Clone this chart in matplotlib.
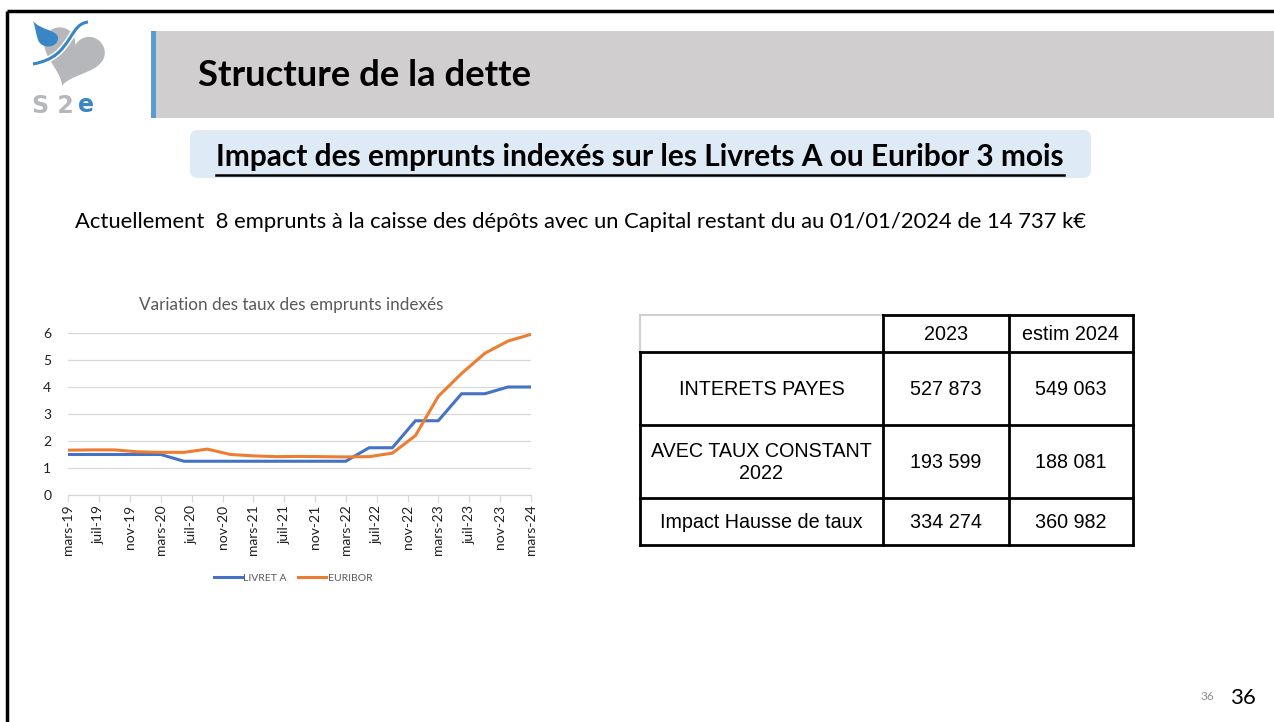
import numpy as np
import pandas as pd
import matplotlib
matplotlib.use("Agg")
import matplotlib.pyplot as plt
from matplotlib.patches import Rectangle, FancyBboxPatch, Polygon, PathPatch
from matplotlib.path import Path

# ---------------------------------------------
# Data

quarter_dates = pd.date_range("2019-03-01", "2024-03-01", freq="3MS")
livret_a = [1.5, 1.5, 1.5, 1.5, 1.5, 1.25, 1.25, 1.25, 1.25, 1.25, 1.25,
            1.25, 1.25, 1.75, 1.75, 2.75, 2.75, 3.75, 3.75, 4.0, 4.0]
euribor = [1.66, 1.67, 1.67, 1.6, 1.58, 1.58, 1.7, 1.5, 1.45, 1.42, 1.43,
           1.42, 1.41, 1.42, 1.55, 2.2, 3.65, 4.5, 5.25, 5.7, 5.95]
series_names = ["LIVRET A", "EURIBOR"]
tick_dates = pd.date_range("2019-03-01", "2024-03-01", freq="4MS")
fr_months = {1: "janv", 2: "févr", 3: "mars", 4: "avr", 5: "mai", 6: "juin",
             7: "juil", 8: "août", 9: "sept", 10: "oct", 11: "nov", 12: "déc"}

table_cols = ["", "2023", "estim 2024"]
table_rows = ["INTERETS PAYES", "AVEC TAUX CONSTANT\n2022", "Impact Hausse de taux"]
table_2023 = ["527 873", "193 599", "334 274"]
table_2024 = ["549 063", "188 081", "360 982"]

title = "Structure de la dette"
subtitle = "Impact des emprunts indexés sur les Livrets A ou Euribor 3 mois"
body = ("Actuellement  8 emprunts à la caisse des dépôts avec un Capital "
        "restant du au 01/01/2024 de 14 737 k€")
chart_title = "Variation des taux des emprunts indexés"

BLUE = "#4472C4"
ORANGE = "#ED7D31"
SLIDE_FONT = ["Lato", "DejaVu Sans"]
TABLE_FONT = ["Liberation Sans", "DejaVu Sans"]
TABLE_SIZE = 14.2

W, H = 1274, 722
fig = plt.figure(figsize=(W / 100, H / 100), dpi=100)
fig.patch.set_facecolor("white")

# overlay in pixel coordinates for the slide decoration and the table
ov = fig.add_axes([0, 0, 1, 1])
ov.set_xlim(0, W)
ov.set_ylim(H, 0)
ov.axis("off")

# slide frame
ov.plot([7, 7], [11, H], color="black", lw=2.5, solid_capstyle="butt")
ov.plot([7, W], [11, 11], color="black", lw=2.5, solid_capstyle="butt")

# title bar
ov.add_patch(Rectangle((152, 31), W - 152, 87, facecolor="#D0CECE", edgecolor="none"))
ov.add_patch(Rectangle((151, 31), 5, 87, facecolor="#5B9BD5", edgecolor="none"))
ov.text(198, 76, title, fontsize=26.3, fontweight="bold", family=SLIDE_FONT,
        va="center", ha="left", color="black")

# subtitle box, underlined text
ov.add_patch(FancyBboxPatch((190, 130), 901, 48, boxstyle="round,pad=0,rounding_size=8",
                            facecolor="#DEEAF6", edgecolor="none"))
st = ov.text(640, 157, subtitle, fontsize=21.5, fontweight="bold", family=SLIDE_FONT,
             va="center", ha="center", color="black")
fig.canvas.draw()
bb = st.get_window_extent().transformed(ov.transData.inverted())
ov.plot([min(bb.x0, bb.x1), max(bb.x0, bb.x1)], [175, 175], color="black", lw=1.8)

ov.text(75, 222, body, fontsize=15.8, family=SLIDE_FONT, va="center", ha="left",
        color="black")

# page numbers
ov.text(1207, 697, "36", fontsize=8.5, family=SLIDE_FONT, color="#8C8C8C",
        ha="center", va="center")
ov.text(1243, 698, "36", fontsize=16, family=SLIDE_FONT, color="black",
        ha="center", va="center")

# logo: grey heart, blue drop, blue wave, "S 2 e"
t = np.linspace(0, 2 * np.pi, 200)
hx = 16 * np.sin(t) ** 3
hy = 13 * np.cos(t) - 5 * np.cos(2 * t) - 2 * np.cos(3 * t) - np.cos(4 * t)
ang = np.deg2rad(-18)
rx = hx * np.cos(ang) - hy * np.sin(ang)
ry = hx * np.sin(ang) + hy * np.cos(ang)
ov.add_patch(Polygon(np.column_stack([72 + 1.95 * rx, 55 - 1.95 * ry]),
                     facecolor="#B6B7BA", edgecolor="none"))
drop = Path([(33, 21), (40, 30), (58, 30), (58, 38), (58, 48), (42, 50), (38, 40),
             (36, 34), (35, 26), (33, 21)],
            [Path.MOVETO, Path.CURVE4, Path.CURVE4, Path.CURVE4, Path.CURVE4,
             Path.CURVE4, Path.CURVE4, Path.CURVE4, Path.CURVE4, Path.CURVE4])
ov.add_patch(PathPatch(drop, facecolor="#3A85C6", edgecolor="none"))
wave = Path([(33, 64), (55, 60), (62, 50), (70, 38), (76, 28), (80, 23), (88, 22)],
            [Path.MOVETO, Path.CURVE4, Path.CURVE4, Path.CURVE4, Path.CURVE4,
             Path.CURVE4, Path.CURVE4])
ov.add_patch(PathPatch(wave, facecolor="none", edgecolor="white", lw=4.5))
ov.add_patch(PathPatch(wave, facecolor="none", edgecolor="#3A85C6", lw=2.2))
ov.text(32, 106, "S 2", fontsize=17, fontweight="bold", family=["DejaVu Sans"],
        color="#B6B7BA", ha="left", va="center")
ov.text(86, 105, "e", fontsize=17, fontweight="bold", family=["DejaVu Sans"],
        color="#3A85C6", ha="center", va="center")

# ---------------------------------------------
# table
x_cols = [640, 883, 1009, 1133]
y_rows = [315, 352, 425, 498, 545]
tw = 2.0
ov.plot([x_cols[0], x_cols[1]], [y_rows[0], y_rows[0]], color="#D0D0D0", lw=1.5)
ov.plot([x_cols[0], x_cols[0]], [y_rows[0], y_rows[1]], color="#D0D0D0", lw=1.5)
ov.plot([x_cols[1], x_cols[3]], [y_rows[0], y_rows[0]], color="black", lw=tw)
for yy in y_rows[1:]:
    ov.plot([x_cols[0], x_cols[3]], [yy, yy], color="black", lw=tw)
ov.plot([x_cols[0], x_cols[0]], [y_rows[1], y_rows[-1]], color="black", lw=tw)
for xx in x_cols[1:]:
    ov.plot([xx, xx], [y_rows[0], y_rows[-1]], color="black", lw=tw)

for j, lab in enumerate(table_cols):
    ov.text((x_cols[j] + x_cols[j + 1]) / 2, (y_rows[0] + y_rows[1]) / 2 + 1, lab,
            fontsize=TABLE_SIZE, family=TABLE_FONT, ha="center", va="center")
for i, lab in enumerate(table_rows):
    yc = (y_rows[i + 1] + y_rows[i + 2]) / 2 + 1
    ov.text((x_cols[0] + x_cols[1]) / 2, yc, lab, fontsize=TABLE_SIZE, family=TABLE_FONT,
            ha="center", va="center", linespacing=1.15)
    ov.text((x_cols[1] + x_cols[2]) / 2, yc, table_2023[i], fontsize=TABLE_SIZE,
            family=TABLE_FONT, ha="center", va="center")
    ov.text((x_cols[2] + x_cols[3]) / 2, yc, table_2024[i], fontsize=TABLE_SIZE,
            family=TABLE_FONT, ha="center", va="center")

# ---------------------------------------------
# line chart
x0, x1, y0, y1 = 68, 531, 333, 495
ax = fig.add_axes([x0 / W, (H - y1) / H, (x1 - x0) / W, (y1 - y0) / H])
ax.set_facecolor("none")
ax.plot(quarter_dates, livret_a, color=BLUE, lw=2.2, label=series_names[0],
        solid_joinstyle="round")
ax.plot(quarter_dates, euribor, color=ORANGE, lw=2.2, label=series_names[1],
        solid_joinstyle="round")
ax.set_xlim(quarter_dates[0], quarter_dates[-1])
ax.set_ylim(0, 6)
ax.set_yticks(range(0, 7))
ax.grid(axis="y", color="#D9D9D9", lw=0.9)
ax.set_axisbelow(True)
for s in ["top", "right", "left"]:
    ax.spines[s].set_visible(False)
ax.spines["bottom"].set_color("#D9D9D9")
ax.spines["bottom"].set_linewidth(0.9)
ax.set_xticks(tick_dates)
ax.set_xticklabels([f"{fr_months[d.month]}-{d.strftime('%y')}" for d in tick_dates],
                   rotation=90, fontsize=10, family=SLIDE_FONT, color="#202020")
ax.tick_params(axis="x", length=5, color="#D9D9D9", width=0.9, pad=2)
ax.tick_params(axis="y", length=0, labelsize=10, pad=12, labelcolor="#202020")
for lab in ax.get_yticklabels():
    lab.set_family(SLIDE_FONT)
ov.text(291, 305, chart_title, fontsize=12.3, family=SLIDE_FONT, color="#595959",
        ha="center", va="center")
ax.legend(loc="center", bbox_to_anchor=(293 / W, (H - 578) / H),
          bbox_transform=fig.transFigure, ncol=2, frameon=False,
          handlelength=2.7, handletextpad=0.15, columnspacing=1.1,
          prop={"family": SLIDE_FONT, "size": 7.5}, labelcolor="#595959")

fig.savefig("out.png", dpi=100)
